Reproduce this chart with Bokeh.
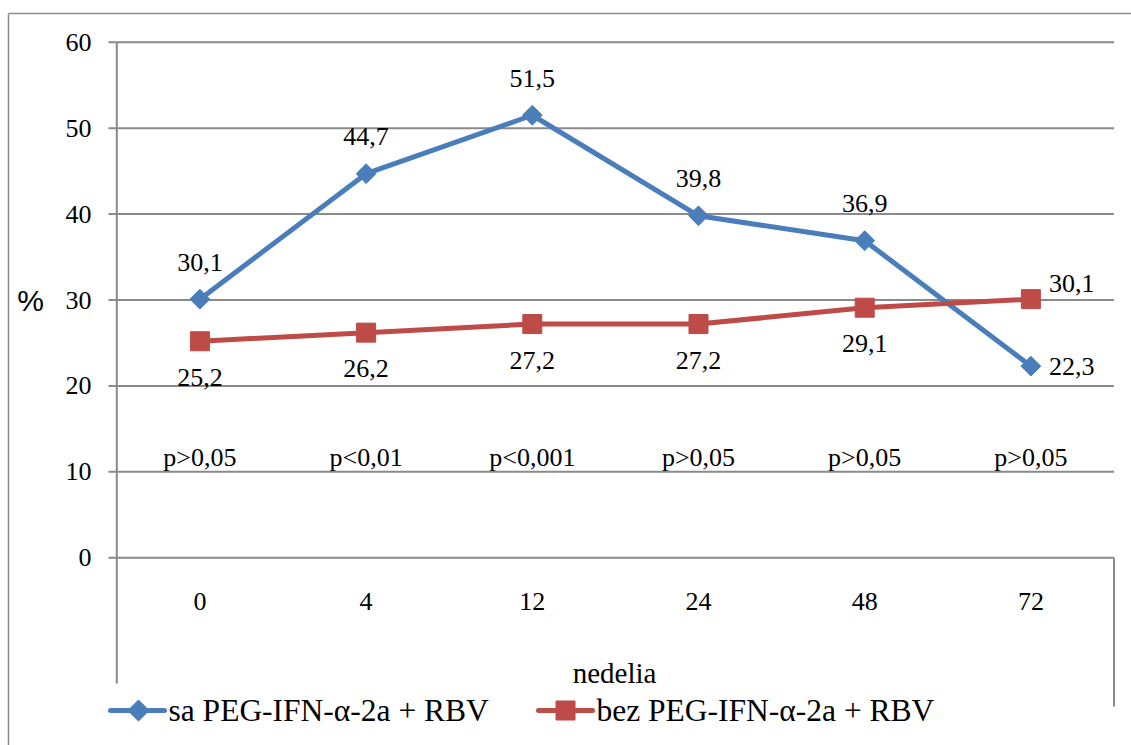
import math

from bokeh.core.properties import value
from bokeh.embed import file_html
from bokeh.models import Range1d
from bokeh.plotting import figure
from bokeh.resources import INLINE

# --- data -------------------------------------------------------------
weeks = ["0", "4", "12", "24", "48", "72"]
with_treatment = [30.1, 44.7, 51.5, 39.8, 36.9, 22.3]
without_treatment = [25.2, 26.2, 27.2, 27.2, 29.1, 30.1]
p_values = ["p>0,05", "p<0,01", "p<0,001", "p>0,05", "p>0,05", "p>0,05"]
y_ticks = [0, 10, 20, 30, 40, 50, 60]
series_names = ["sa PEG-IFN-\u03b1-2a + RBV", "bez PEG-IFN-\u03b1-2a + RBV"]
x_title = "nedelia"
y_title = "%"

# --- layout (pixels of the page) --------------------------------------
W, H = 1131, 745
PLOT_L, PLOT_R = 116.3, 1113.5
PLOT_T, PLOT_B = 41.7, 557.3
Y_MAX = 60
slot = (PLOT_R - PLOT_L) / len(weeks)
unit = (PLOT_B - PLOT_T) / Y_MAX


def dx(px):
    """page x pixel -> data x (category index)"""
    return (px - PLOT_L) / slot - 0.5


def dy(py):
    """page y pixel -> data y (percent)"""
    return (PLOT_B - py) / unit


BLUE = "#4A7EBB"
RED = "#BE4B48"
GRID = "#8A8A8A"
SERIF = value("'Liberation Serif', 'Times New Roman', serif")
idx = list(range(len(weeks)))

p = figure(
    width=W, height=H,
    x_range=Range1d(dx(0), dx(W)), y_range=Range1d(dy(H), dy(0)),
    output_backend="svg", toolbar_location=None, min_border=0,
    x_axis_location=None, y_axis_location=None,
)
p.outline_line_color = None
p.background_fill_color = "white"
p.border_fill_color = "white"
p.xgrid.grid_line_color = None
p.ygrid.grid_line_color = None
p.grid.visible = False

# outer chart border
p.segment(x0=[dx(8)], y0=[dy(13)], x1=[dx(8)], y1=[dy(H + 20)], line_color=GRID, line_width=1.5)
p.segment(x0=[dx(8)], y0=[dy(13)], x1=[dx(W + 20)], y1=[dy(13)], line_color=GRID, line_width=1.5)

# horizontal gridlines with small tick stubs on the left
p.segment(x0=dx(108), x1=dx(PLOT_R), y0=y_ticks, y1=y_ticks, line_color=GRID, line_width=2)
# vertical axis line and the closing line on the right of the category band
p.segment(x0=[-0.5], y0=[Y_MAX], x1=[-0.5], y1=[dy(683)], line_color=GRID, line_width=2)
p.segment(x0=[len(weeks) - 0.5], y0=[0], x1=[len(weeks) - 0.5], y1=[dy(706)], line_color=GRID, line_width=2)

# tick labels
p.text(x=dx(91), y=y_ticks, text=[str(t) for t in y_ticks], text_align="right",
       text_baseline="middle", text_font=SERIF, text_font_size="26px", text_color="black")
p.text(x=idx, y=dy(601), text=weeks, text_align="center", text_baseline="middle",
       text_font=SERIF, text_font_size="26px", text_color="black")

# axis titles
p.text(x=[dx(30)], y=[dy(300)], text=[y_title], text_align="center", text_baseline="middle",
       text_font=value("'Liberation Sans'"), text_font_size="30px", text_color="black")
p.text(x=[dx(614)], y=[dy(672)], text=[x_title], text_align="center", text_baseline="middle",
       text_font=SERIF, text_font_size="29px", text_color="black")

# significance row
p.text(x=idx, y=dy(457), text=p_values, text_align="center", text_baseline="middle",
       text_font=SERIF, text_font_size="26px", text_color="black")

# series
p.line(x=idx, y=with_treatment, line_color=BLUE, line_width=5, line_join="round", line_cap="round")
p.scatter(x=idx, y=with_treatment, marker="square", angle=math.pi / 4, size=14,
          fill_color=BLUE, line_color=BLUE)
p.line(x=idx, y=without_treatment, line_color=RED, line_width=5, line_join="round", line_cap="round")
p.scatter(x=idx, y=without_treatment, marker="square", size=19, fill_color=RED, line_color=RED)

# value labels
fmt = lambda v: f"{v:.1f}".replace(".", ",")
p.text(x=idx[:-1], y=with_treatment[:-1], text=[fmt(v) for v in with_treatment[:-1]],
       y_offset=-37, text_align="center", text_baseline="middle",
       text_font=SERIF, text_font_size="26px", text_color="black")
p.text(x=idx[-1:], y=with_treatment[-1:], text=[fmt(v) for v in with_treatment[-1:]],
       x_offset=18, text_align="left", text_baseline="middle",
       text_font=SERIF, text_font_size="26px", text_color="black")
p.text(x=idx[:-1], y=without_treatment[:-1], text=[fmt(v) for v in without_treatment[:-1]],
       y_offset=36, text_align="center", text_baseline="middle",
       text_font=SERIF, text_font_size="26px", text_color="black")
p.text(x=idx[-1:], y=without_treatment[-1:], text=[fmt(v) for v in without_treatment[-1:]],
       x_offset=18, y_offset=-16, text_align="left", text_baseline="middle",
       text_font=SERIF, text_font_size="26px", text_color="black")

# legend row
LEG_Y = dy(710)
p.segment(x0=[dx(110)], y0=[LEG_Y], x1=[dx(164)], y1=[LEG_Y], line_color=BLUE, line_width=5, line_cap="round")
p.scatter(x=[dx(138)], y=[LEG_Y], marker="square", angle=math.pi / 4, size=15, fill_color=BLUE, line_color=BLUE)
p.text(x=[dx(168)], y=[LEG_Y], text=[series_names[0]], text_align="left", text_baseline="middle",
       text_font=SERIF, text_font_size="31.5px", text_color="black")
p.segment(x0=[dx(538)], y0=[LEG_Y], x1=[dx(592)], y1=[LEG_Y], line_color=RED, line_width=5, line_cap="round")
p.scatter(x=[dx(565)], y=[LEG_Y], marker="square", size=19, fill_color=RED, line_color=RED)
p.text(x=[dx(596)], y=[LEG_Y], text=[series_names[1]], text_align="left", text_baseline="middle",
       text_font=SERIF, text_font_size="31.5px", text_color="black")

open("out.html", "w").write(file_html(p, INLINE))
